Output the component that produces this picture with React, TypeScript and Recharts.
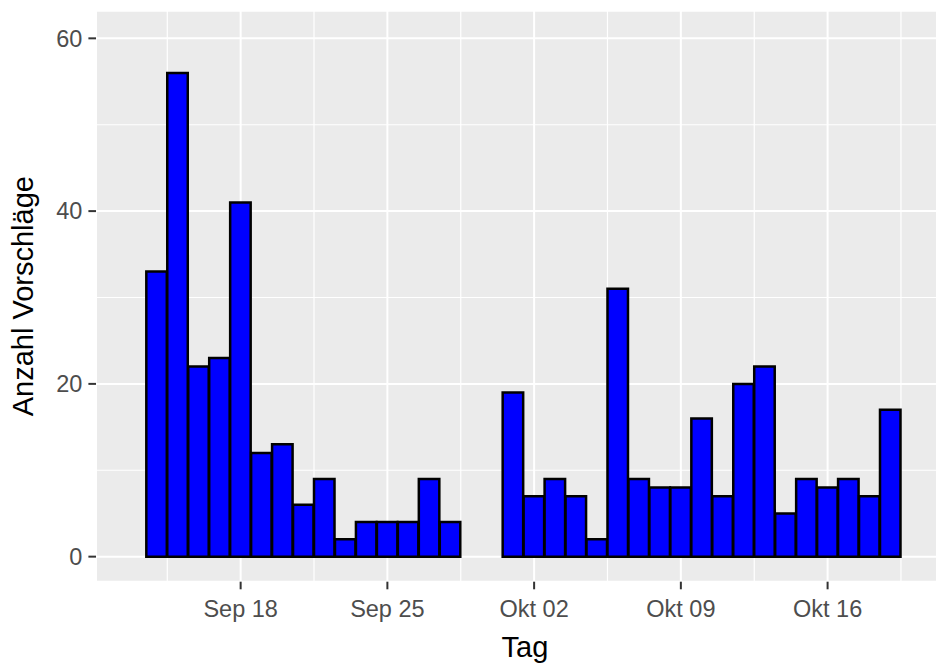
import {
  BarChart,
  Bar,
  XAxis,
  YAxis,
  CartesianGrid,
  Label,
} from "recharts";

// Vorschläge pro Tag (Jahr ist im Bild nicht sichtbar)
const septDates = [
  "2017-09-14", "2017-09-15", "2017-09-16", "2017-09-17", "2017-09-18",
  "2017-09-19", "2017-09-20", "2017-09-21", "2017-09-22", "2017-09-23",
  "2017-09-24", "2017-09-25", "2017-09-26", "2017-09-27", "2017-09-28",
];
const septCounts = [33, 56, 22, 23, 41, 12, 13, 6, 9, 2, 4, 4, 4, 9, 4];

const oktDates = [
  "2017-10-01", "2017-10-02", "2017-10-03", "2017-10-04", "2017-10-05",
  "2017-10-06", "2017-10-07", "2017-10-08", "2017-10-09", "2017-10-10",
  "2017-10-11", "2017-10-12", "2017-10-13", "2017-10-14", "2017-10-15",
  "2017-10-16", "2017-10-17", "2017-10-18", "2017-10-19",
];
const oktCounts = [19, 7, 9, 7, 2, 31, 9, 8, 8, 16, 7, 20, 22, 5, 9, 8, 9, 7, 17];

const xTickDates = ["2017-09-18", "2017-09-25", "2017-10-02", "2017-10-09", "2017-10-16"];
const yTicks = [0, 20, 40, 60];
const yMinor = [10, 30, 50];

const MONTHS = ["Jan", "Feb", "Mär", "Apr", "Mai", "Jun", "Jul", "Aug", "Sep", "Okt", "Nov", "Dez"];

const DAY_MS = 86400000;
const BASE = Date.UTC(2017, 8, 1);
const dayNum = (d: string) => (Date.parse(d) - BASE) / DAY_MS + 1;

function formatDay(v: number): string {
  const d = new Date(BASE + (v - 1) * DAY_MS);
  return `${MONTHS[d.getUTCMonth()]} ${String(d.getUTCDate()).padStart(2, "0")}`;
}

const chartData = [
  ...septDates.map((d, i) => ({ day: dayNum(d), count: septCounts[i] })),
  ...oktDates.map((d, i) => ({ day: dayNum(d), count: oktCounts[i] })),
];

const xTicks = xTickDates.map(dayNum);
// minor grid halfway between the weekly ticks
const xMinor = [xTicks[0] - 3.5, ...xTicks.map((t) => t + 3.5)];
const ref = dayNum("2017-09-18");
const xDomain = [ref - 6.9, ref + 34.03];

function YTitle({ viewBox }: any) {
  const cy = viewBox ? viewBox.y + viewBox.height / 2 : 296;
  const x = 33;
  return (
    <text
      x={x}
      y={cy}
      transform={`rotate(-90 ${x} ${cy})`}
      textAnchor="middle"
      fontSize={29}
      fill="#000000"
    >
      Anzahl Vorschläge
    </text>
  );
}

export default function App() {
  return (
    <div
      style={{
        position: "absolute",
        left: 0,
        top: 0,
        width: 936,
        height: 663,
        overflow: "hidden",
        background: "#ffffff",
        fontFamily: "'Liberation Sans', Arial, sans-serif",
      }}
    >
      <BarChart
        width={954}
        height={663}
        data={chartData}
        margin={{ top: 10.7, right: 0, bottom: 0, left: 0 }}
      >
        {/* minor grid + panel background */}
        <CartesianGrid
          fill="#EBEBEB"
          stroke="#FFFFFF"
          strokeWidth={1.2}
          horizontalValues={yMinor}
          verticalValues={xMinor}
        />
        {/* major grid */}
        <CartesianGrid stroke="#FFFFFF" strokeWidth={2} />
        <XAxis
          type="number"
          dataKey="day"
          domain={xDomain}
          allowDataOverflow
          ticks={xTicks}
          tickFormatter={formatDay}
          height={81.3}
          axisLine={false}
          tickSize={7.6}
          tickMargin={11}
          tickLine={{ stroke: "#333333", strokeWidth: 2 }}
          tick={{ fill: "#4D4D4D", fontSize: 23.5 }}
          label={{
            value: "Tag",
            position: "insideBottom",
            offset: 6,
            fontSize: 29,
            fill: "#000000",
          }}
        />
        <YAxis
          type="number"
          domain={[-2.9, 63.2]}
          allowDataOverflow
          ticks={yTicks}
          width={96}
          axisLine={false}
          tickSize={7.6}
          tickMargin={6}
          tickLine={{ stroke: "#333333", strokeWidth: 2 }}
          tick={{ fill: "#4D4D4D", fontSize: 23.5 }}
        >
          <Label content={<YTitle />} />
        </YAxis>
        <Bar
          dataKey="count"
          fill="#0000FF"
          stroke="#000000"
          strokeWidth={2.5}
          barSize={20.5}
          isAnimationActive={false}
        />
      </BarChart>
    </div>
  );
}
